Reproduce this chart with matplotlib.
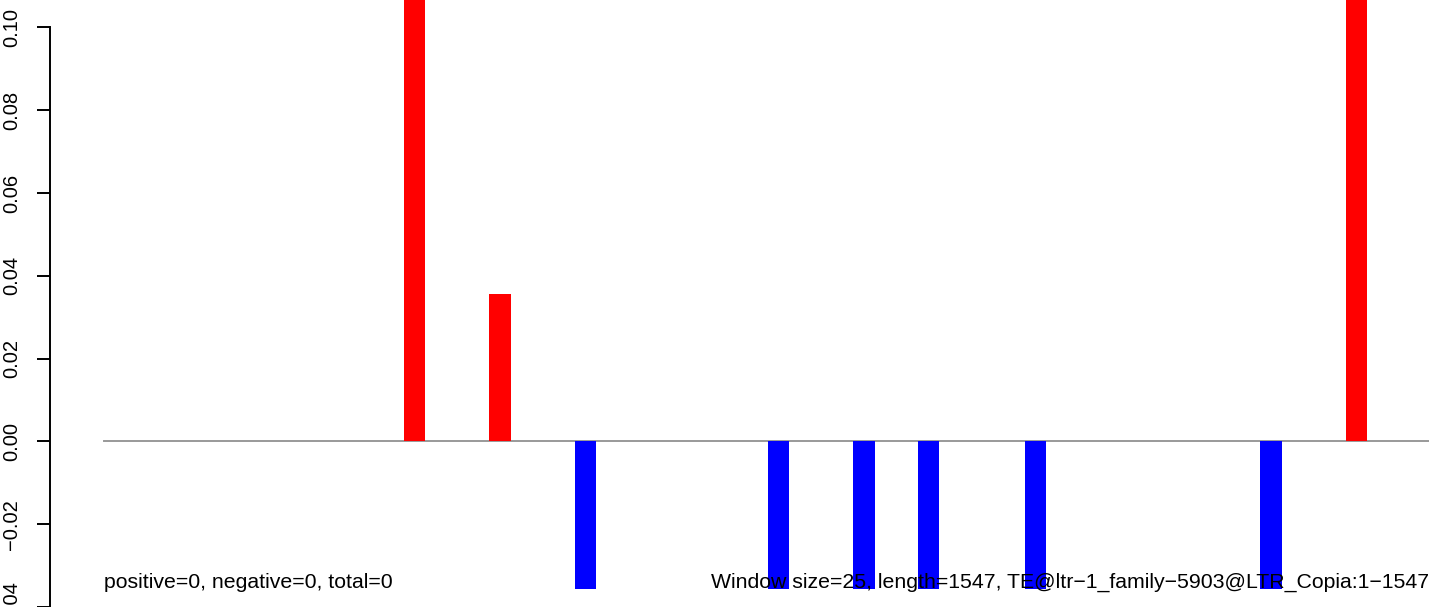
import matplotlib
matplotlib.use("Agg")
import matplotlib.pyplot as plt

plt.rcParams['font.family'] = ['Liberation Sans', 'DejaVu Sans']

# window centres (bp) and the signal for each window
win_size = 25
seq_len = 1547
win_pos = [362.5, 462.5, 562.5, 787.5, 887.5, 962.5, 1087.5, 1362.5, 1462.5]
win_val = [0.15, 0.0357, -0.0357, -0.0357, -0.0357, -0.0357, -0.0357, -0.0357, 0.15]

yticks = [-0.04, -0.02, 0.00, 0.02, 0.04, 0.06, 0.08, 0.10]
ytick_labels = ["\u22120.04", "\u22120.02", "0.00", "0.02", "0.04", "0.06", "0.08", "0.10"]

left_note = "positive=0, negative=0, total=0"
right_note = "Window size=25, length=1547, TE@ltr\u22121_family\u22125903@LTR_Copia:1\u22121547"

W, H = 1429, 607
fig = plt.figure(figsize=(W / 100, H / 100), dpi=100)
ax = fig.add_axes([0, 0, 1, 1])

# pixel layout of the original R device
px_per_bp = (1429 - 104) / seq_len
x0 = -104 / px_per_bp
y_zero_px, px_per_002 = 445.7, 83.6
ytop = y_zero_px / px_per_002 * 0.02
ybot = -(H - y_zero_px) / px_per_002 * 0.02

ax.set_xlim(x0, seq_len)
ax.set_ylim(ybot, ytop)

colors = ['#ff0000' if v > 0 else '#0000ff' for v in win_val]
ax.bar(win_pos, win_val, width=win_size, color=colors, linewidth=0, zorder=2)
ax.plot([0, seq_len], [0, 0], color='#999999', lw=1.4, zorder=1)

ax.text(0, -0.0341, left_note, fontsize=15.3, ha='left', va='center')
ax.text(seq_len, -0.0341, right_note, fontsize=15.3, ha='right', va='center', zorder=3)

for s in ['top', 'right', 'bottom']:
    ax.spines[s].set_visible(False)
ax.spines['left'].set_position(('axes', 50 / W))
ax.spines['left'].set_bounds(-0.04, 0.10)
ax.spines['left'].set_linewidth(1.4)
ax.set_xticks([])
ax.set_yticks(yticks)
ax.set_yticklabels(ytick_labels, rotation=90, va='center', fontsize=14.5)
ax.tick_params(axis='y', direction='out', length=9.4, width=1.4, pad=11.5)
ax.patch.set_alpha(0)

fig.savefig("out.png", dpi=100)
